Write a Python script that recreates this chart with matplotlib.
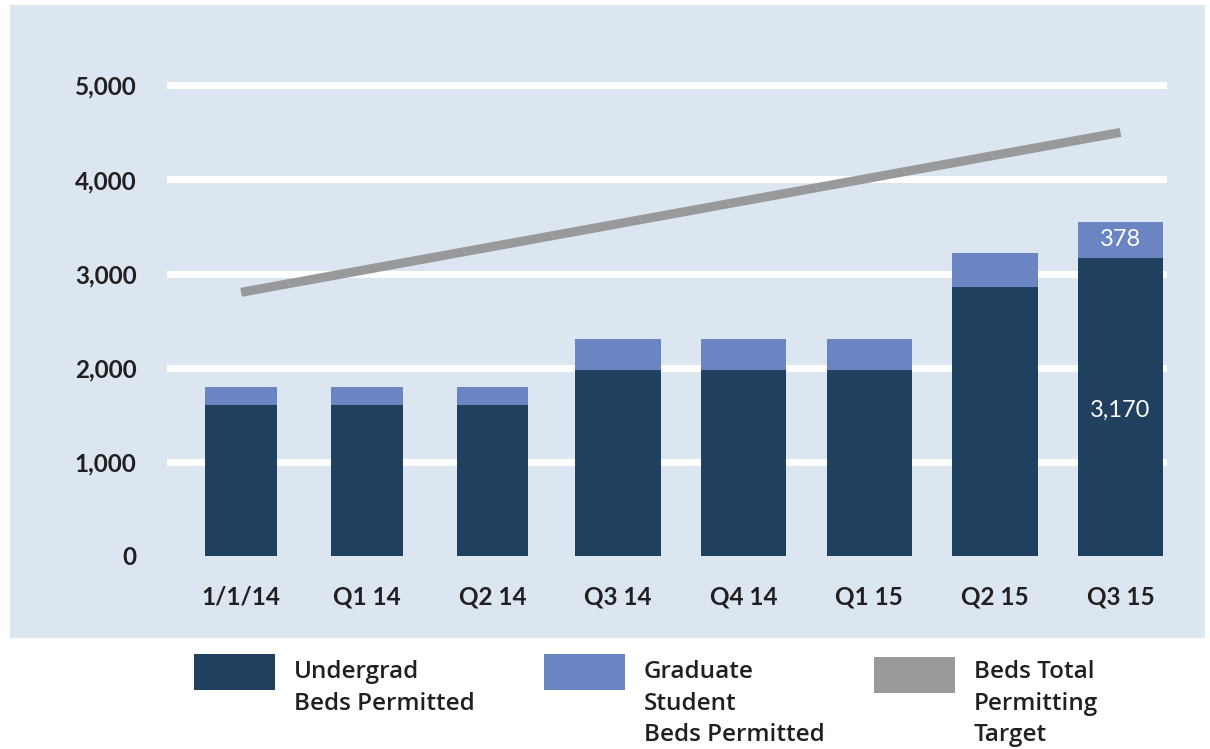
import matplotlib
matplotlib.use('Agg')
import matplotlib.pyplot as plt
from matplotlib.patches import Rectangle

# Data
quarters = ['1/1/14', 'Q1 14', 'Q2 14', 'Q3 14', 'Q4 14', 'Q1 15', 'Q2 15', 'Q3 15']
undergrad_beds = [1600, 1600, 1600, 1970, 1970, 1970, 2860, 3170]
graduate_beds = [190, 190, 190, 330, 330, 330, 360, 378]
target_quarters = ['1/1/14', 'Q3 15']
target_beds = [2800, 4500]
y_ticks = [0, 1000, 2000, 3000, 4000, 5000]

# Colours
NAVY = '#20405f'
PERIWINKLE = '#6a85c2'
GREY = '#98999b'
PANEL = '#dce6f1'
TEXT = '#231f20'

plt.rcParams['font.family'] = ['Lato', 'DejaVu Sans']

fig = plt.figure(figsize=(12.1, 7.49), dpi=100)

# Light blue panel behind the plot
fig.patches.append(Rectangle((10 / 1210, 1 - 638 / 749), 1195 / 1210, 633 / 749,
                             transform=fig.transFigure, facecolor=PANEL,
                             edgecolor='none', zorder=-5))

ax = fig.add_axes([167 / 1210, 1 - 566 / 749, 1000 / 1210, 490 / 749])
ax.set_zorder(2)
ax.patch.set_alpha(0)

x = list(range(len(quarters)))
widths = [0.57] * 3 + [0.68] * 5

# Stacked bars
ax.bar(x, undergrad_beds, width=widths, color=NAVY, zorder=2)
ax.bar(x, graduate_beds, width=widths, bottom=undergrad_beds, color=PERIWINKLE, zorder=2)

# Permitting target line
target_x = [quarters.index(q) for q in target_quarters]
ax.plot(target_x, target_beds, color=GREY, linewidth=6.5, solid_capstyle='butt', zorder=3)

# Value labels on the last bar
last = len(quarters) - 1
ax.text(last, undergrad_beds[last] + graduate_beds[last] / 2, f'{graduate_beds[last]:,}',
        ha='center', va='center', color='white', fontsize=17, zorder=4)
ax.text(last, 1550, f'{undergrad_beds[last]:,}', ha='center', va='center',
        color='white', fontsize=17, zorder=4)

# White gridlines (none at zero)
for t in y_ticks[1:]:
    ax.axhline(t, color='white', linewidth=5, zorder=1)

ax.set_xlim(-0.59, 7.37)
ax.set_ylim(-110, 5100)
ax.set_xticks(x)
ax.set_xticklabels(quarters)
ax.set_yticks(y_ticks)
ax.set_yticklabels([f'{t:,}' for t in y_ticks])
ax.tick_params(axis='both', length=0, labelsize=17.5, labelcolor=TEXT)
ax.tick_params(axis='y', pad=22)
ax.tick_params(axis='x', pad=14)
for lbl in ax.get_xticklabels() + ax.get_yticklabels():
    lbl.set_fontweight('bold')
for s in ax.spines.values():
    s.set_visible(False)

# Legend drawn by hand below the panel
legend_items = [
    (194, 654, NAVY, 'Undergrad\nBeds Permitted'),
    (544, 654, PERIWINKLE, 'Graduate\nStudent\nBeds Permitted'),
    (874, 657, GREY, 'Beds Total\nPermitting\nTarget'),
]
for lx, ly, col, label in legend_items:
    fig.patches.append(Rectangle((lx / 1210, 1 - (ly + 36) / 749), 81 / 1210, 36 / 749,
                                 transform=fig.transFigure, facecolor=col, edgecolor='none'))
    fig.text((lx + 100) / 1210, 1 - 660 / 749, label, ha='left', va='top',
             family=['Open Sans', 'DejaVu Sans'], fontsize=17.5, color=TEXT,
             linespacing=1.42, fontweight='semibold')

fig.savefig('out.png', dpi=100)
